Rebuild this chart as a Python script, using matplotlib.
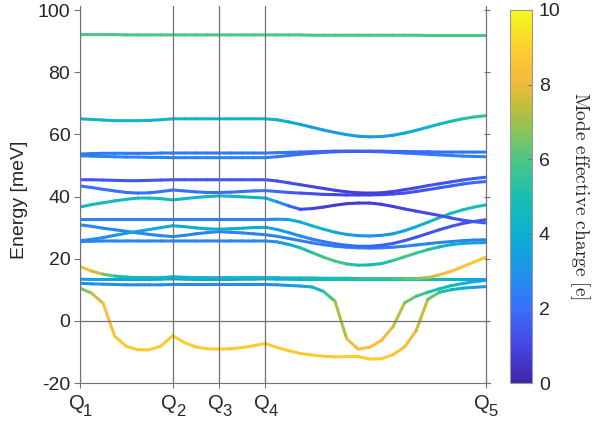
import matplotlib
matplotlib.use('Agg')
import matplotlib.pyplot as plt
import numpy as np
from matplotlib.collections import LineCollection
from matplotlib.colors import LinearSegmentedColormap, Normalize
from matplotlib.transforms import blended_transform_factory, offset_copy

plt.rcParams['font.family'] = ['Liberation Sans', 'DejaVu Sans']
plt.rcParams['axes.unicode_minus'] = False

# high-symmetry points along the path (sample index)
q_index = [0, 8, 12, 16, 35]
q_names = ['1', '2', '3', '4', '5']
n_k = 36

# phonon energies [meV] and mode effective charges [e], one pair per band
e_b1 = [10.5, 8.9, 5.6, -5.0, -8.2, -9.3, -9.3, -8.1, -4.8,
        -7.0, -8.4, -9.0, -9.1,
        -9.0, -8.6, -8.0, -7.3,
        -8.6, -9.6, -10.5, -11.0, -11.4, -11.6, -11.5, -11.5, -12.3, -12.2,
        -10.9, -8.4, -3.2, 6.9, 9.2, 10.0, 10.5, 10.8, 11.0]
c_b1 = [6.0, 7.2, 8.2, 8.7, 8.8, 8.8, 8.8, 8.8, 8.8,
        8.8, 8.8, 8.8, 8.8, 8.8, 8.8, 8.8, 8.8,
        8.8, 8.8, 8.8, 8.8, 8.8, 8.8, 8.8, 8.8, 8.8, 8.8,
        8.7, 8.5, 8.0, 7.0, 5.6, 4.6, 3.9, 3.4, 3.0]

e_b2 = [12.1, 11.9, 11.8, 11.7, 11.6, 11.6, 11.6, 11.6, 11.7,
        11.7, 11.7, 11.7, 11.7,
        11.7, 11.7, 11.7, 11.7,
        11.6, 11.4, 11.2, 10.9, 9.5, 6.3, -5.7, -9.1, -8.5, -6.3,
        -1.9, 5.8, 7.9, 9.2, 10.3, 11.3, 12.0, 12.6, 13.0]
c_b2 = [2.8] * 17 + [2.9, 3.1, 3.4, 3.9, 4.8, 6.5, 7.8, 8.5, 8.5, 8.3,
                     7.8, 7.0, 6.0, 5.3, 4.9, 4.6, 4.4, 4.2, 4.0]

e_b3 = [13.4, 13.3, 13.3, 13.3, 13.3, 13.3, 13.3, 13.4, 13.5,
        13.4, 13.3, 13.3, 13.3,
        13.3, 13.4, 13.4, 13.5,
        13.4, 13.4, 13.3, 13.3, 13.3, 13.3, 13.3, 13.3, 13.3, 13.3,
        13.3, 13.3, 13.3, 13.3, 13.3, 13.3, 13.3, 13.3, 13.3]
c_b3 = [3.6] * 17 + [3.7, 3.9, 4.1, 4.3, 4.5, 4.6, 4.7, 4.8, 4.9, 5.0,
                     5.0, 5.0, 5.0, 4.9, 4.6, 4.2, 3.9, 3.6, 3.4]

e_b4 = [17.5, 16.0, 15.0, 14.4, 14.1, 13.9, 13.9, 13.9, 14.2,
        14.0, 13.9, 13.9, 13.9,
        13.9, 13.9, 13.9, 13.9,
        13.9, 13.8, 13.8, 13.8, 13.7, 13.7, 13.7, 13.6, 13.6, 13.6,
        13.6, 13.6, 13.6, 13.9, 14.8, 15.9, 17.4, 18.9, 20.5]
c_b4 = [8.7, 8.0, 7.0, 5.5, 4.8, 4.4, 4.3, 4.3, 4.3,
        4.3, 4.3, 4.3, 4.3, 4.3, 4.3, 4.3, 4.3,
        4.4, 4.5, 4.6, 4.7, 4.8, 5.0, 5.1, 5.2, 5.3, 5.4,
        5.6, 5.9, 6.4, 7.1, 7.9, 8.4, 8.6, 8.7, 8.7]

e_g = [25.5, 25.6, 25.7, 25.7, 25.7, 25.7, 25.7, 25.7, 25.7,
       25.7, 25.7, 25.7, 25.7,
       25.7, 25.7, 25.7, 25.7,
       25.4, 24.6, 23.5, 22.0, 20.5, 19.2, 18.3, 17.9, 18.0, 18.4,
       19.4, 20.6, 21.8, 22.9, 23.8, 24.5, 24.9, 25.1, 25.2]
c_g = [2.6] * 17 + [3.0, 3.7, 4.5, 5.2, 5.8, 6.0, 5.6, 5.0, 4.6, 4.8,
                    5.3, 5.8, 5.8, 5.4, 4.9, 4.4, 3.9, 3.5, 3.2]

e_l1 = [30.9, 30.4, 29.8, 29.3, 28.8, 28.3, 27.8, 27.4, 27.1,
        27.5, 28.0, 28.4, 28.7,
        28.5, 28.3, 28.0, 27.7,
        27.2, 26.5, 25.8, 25.1, 24.5, 24.0, 23.7, 23.5, 23.4, 23.5,
        23.7, 24.0, 24.4, 24.8, 25.2, 25.5, 25.8, 26.0, 26.1]
c_l1 = [2.6] * 17 + [2.6, 2.5, 2.5, 2.4, 2.4, 2.4, 2.4, 2.4, 2.4, 2.4,
                     2.5, 2.5, 2.5, 2.6, 2.6, 2.6, 2.7, 2.7, 2.7]

e_l2 = [25.8, 26.2, 26.8, 27.5, 28.2, 28.8, 29.4, 30.0, 30.6,
        30.3, 29.9, 29.6, 29.5,
        29.6, 29.8, 30.0, 30.1,
        29.4, 28.4, 27.3, 26.3, 25.5, 24.8, 24.3, 24.0, 24.0, 24.3,
        24.9, 25.8, 26.9, 28.1, 29.3, 30.4, 31.3, 32.0, 32.5]
c_l2 = [2.6, 2.7, 2.8, 3.0, 3.2, 3.4, 3.6, 3.8, 4.0,
        4.0, 4.0, 4.0, 4.0, 4.0, 4.0, 4.0, 4.0,
        3.6, 3.1, 2.7, 2.4, 2.2, 2.0, 1.9, 1.8, 1.7, 1.6,
        1.5, 1.4, 1.4, 1.3, 1.3, 1.3, 1.3, 1.4, 1.5]

e_t = [32.6] * 17 + [32.7, 32.6, 31.8, 30.6, 29.5, 28.5, 27.8, 27.4, 27.3, 27.5,
                     28.0, 29.0, 30.3, 31.7, 33.2, 34.6, 35.7, 36.6, 37.3]
c_t = [2.5] * 17 + [2.8, 3.4, 4.2, 4.6, 4.4, 3.8, 3.2, 2.9, 2.8, 2.9,
                    3.1, 3.5, 4.0, 4.4, 4.7, 4.8, 4.9, 4.9, 4.9]

e_p = [36.6, 37.4, 38.0, 38.6, 39.1, 39.5, 39.5, 39.3, 38.9,
       39.3, 39.7, 40.0, 40.2,
       40.1, 39.9, 39.7, 39.5,
       38.3, 37.0, 35.9, 36.1, 36.6, 37.2, 37.7, 37.9, 37.9, 37.5,
       36.8, 36.0, 35.3, 34.6, 33.9, 33.1, 32.4, 31.9, 31.5]
c_p = [4.6, 4.6, 4.7, 4.7, 4.7, 4.7, 4.7, 4.6, 4.5,
       4.5, 4.6, 4.6, 4.6, 4.5, 4.5, 4.4, 4.3,
       3.3, 2.0, 1.2, 0.9, 0.8, 0.7, 0.7, 0.7, 0.7, 0.7,
       0.8, 0.9, 1.0, 1.1, 1.2, 1.3, 1.4, 1.5, 1.6]

e_h2 = [43.4, 42.9, 42.3, 41.8, 41.3, 41.1, 41.2, 41.6, 42.1,
        41.8, 41.5, 41.3, 41.3,
        41.4, 41.6, 41.8, 41.9,
        41.6, 41.3, 41.1, 40.9, 40.7, 40.6, 40.5, 40.5, 40.5, 40.6,
        40.8, 41.1, 41.6, 42.2, 42.8, 43.4, 44.0, 44.5, 44.8]
c_h2 = [2.0] * 17 + [1.8, 1.6, 1.4, 1.2, 1.1, 1.0, 1.0, 1.0, 1.0, 1.0,
                     1.1, 1.2, 1.3, 1.4, 1.5, 1.6, 1.7, 1.8, 1.9]

e_h1 = [45.4, 45.4, 45.3, 45.2, 45.1, 45.1, 45.2, 45.3, 45.4,
        45.4, 45.4, 45.4, 45.4,
        45.4, 45.4, 45.4, 45.4,
        45.0, 44.4, 43.8, 43.2, 42.6, 42.0, 41.5, 41.2, 41.1, 41.2,
        41.6, 42.2, 42.8, 43.5, 44.1, 44.7, 45.3, 45.8, 46.2]
c_h1 = [1.4] * 17 + [1.3, 1.2, 1.1, 1.0, 0.9, 0.9, 0.8, 0.8, 0.8, 0.8,
                     0.9, 1.0, 1.1, 1.2, 1.3, 1.4, 1.5, 1.6, 1.7]

e_m2 = [53.1, 53.0, 52.9, 52.8, 52.7, 52.7, 52.6, 52.6, 52.5,
        52.5, 52.5, 52.5, 52.5,
        52.5, 52.5, 52.5, 52.5,
        52.8, 53.2, 53.6, 53.9, 54.2, 54.4, 54.5, 54.5, 54.5, 54.4,
        54.2, 54.0, 53.8, 53.6, 53.4, 53.2, 53.0, 52.9, 52.8]
c_m2 = [2.6] * 17 + [2.4, 2.2, 2.0, 1.9, 1.8, 1.7, 1.7, 1.7, 1.7, 1.8,
                     1.9, 2.0, 2.1, 2.2, 2.3, 2.4, 2.5, 2.5, 2.6]

e_m1 = [53.7, 53.8, 53.9, 53.9, 53.9, 53.9, 53.9, 54.0, 54.0,
        54.0, 54.0, 54.0, 54.0,
        54.0, 54.0, 54.0, 54.0,
        54.1, 54.2, 54.3, 54.4, 54.5, 54.6, 54.6, 54.6, 54.6, 54.6,
        54.5, 54.5, 54.4, 54.4, 54.3, 54.3, 54.3, 54.3, 54.3]
c_m1 = [2.3] * 17 + [2.1, 2.0, 1.9, 1.8, 1.8, 1.7, 1.7, 1.7, 1.7, 1.7,
                     1.8, 1.8, 1.9, 1.9, 2.0, 2.0, 2.1, 2.1, 2.2]

e_65 = [65.0, 64.8, 64.6, 64.4, 64.4, 64.4, 64.5, 64.7, 65.0,
        65.0, 65.0, 65.0, 65.0,
        65.0, 65.0, 65.0, 65.0,
        64.7, 64.0, 63.2, 62.3, 61.4, 60.6, 59.9, 59.4, 59.2, 59.3,
        59.7, 60.4, 61.3, 62.3, 63.3, 64.2, 65.0, 65.6, 66.0]
c_65 = [4.4] * 17 + [4.2, 3.9, 3.6, 3.4, 3.3, 3.2, 3.2, 3.2, 3.2, 3.3,
                     3.4, 3.6, 3.9, 4.2, 4.5, 4.8, 5.1, 5.3, 5.5]

e_92 = [92.1, 92.1, 92.1, 92.1, 92.0, 92.0, 92.0, 92.0, 92.0,
        92.0, 92.0, 92.0, 92.0,
        92.0, 92.0, 92.0, 92.0,
        92.0, 92.0, 92.0, 91.9, 91.9, 91.9, 91.9, 91.9, 91.9, 91.9,
        91.9, 91.9, 91.9, 91.8, 91.8, 91.8, 91.8, 91.8, 91.8]
c_92 = [5.9] * 36

bands = [(e_b1, c_b1), (e_b2, c_b2), (e_b3, c_b3), (e_b4, c_b4),
         (e_g, c_g), (e_l1, c_l1), (e_l2, c_l2), (e_t, c_t), (e_p, c_p),
         (e_h2, c_h2), (e_h1, c_h1), (e_m2, c_m2), (e_m1, c_m1),
         (e_65, c_65), (e_92, c_92)]

# parula-like colormap
parula = LinearSegmentedColormap.from_list('parula', [
    (0.00, (0.243, 0.150, 0.660)),
    (0.10, (0.280, 0.270, 0.900)),
    (0.20, (0.220, 0.440, 0.990)),
    (0.30, (0.120, 0.580, 0.910)),
    (0.40, (0.040, 0.690, 0.830)),
    (0.50, (0.100, 0.745, 0.690)),
    (0.60, (0.300, 0.780, 0.520)),
    (0.70, (0.620, 0.760, 0.300)),
    (0.75, (0.780, 0.745, 0.230)),
    (0.80, (0.930, 0.730, 0.240)),
    (0.85, (0.990, 0.750, 0.220)),
    (0.90, (0.990, 0.820, 0.180)),
    (0.95, (0.960, 0.900, 0.140)),
    (1.00, (0.977, 0.984, 0.080)),
])
norm = Normalize(0, 10)

fig = plt.figure(figsize=(6.05, 4.34), dpi=100)
ax = fig.add_axes([80 / 605, 51 / 434, 410 / 605, 377 / 434])

k = np.arange(n_k)
segs, vals = [], []
for e, c in bands:
    e = np.asarray(e, float)
    c = np.asarray(c, float)
    pts = np.column_stack([k, e])
    segs.append(np.stack([pts[:-1], pts[1:]], axis=1))
    vals.append(0.5 * (c[:-1] + c[1:]))
lc = LineCollection(np.concatenate(segs), cmap=parula, norm=norm,
                    linewidths=2.2, capstyle='round', joinstyle='round', zorder=2)
lc.set_array(np.concatenate(vals))
lc.set_snap(False)
ax.add_collection(lc)

for q in q_index:
    ax.axvline(q, color='0.45', lw=0.9, zorder=3)
ax.axhline(0, color='0.45', lw=0.9, zorder=3)

ax.set_xlim(0, 35 * 1.0106)
ax.set_ylim(-20, 101.3)
ax.set_yticks(np.arange(-20, 101, 20))
ax.set_xticks(q_index)
ax.set_xticklabels([])
for side in ['top', 'right']:
    ax.spines[side].set_visible(False)
for side in ['left', 'bottom']:
    ax.spines[side].set_color('0.45')
ax.tick_params(axis='y', direction='out', length=4, color='0.45',
               labelsize=14, labelcolor='0.15', pad=3)
ax.tick_params(axis='x', direction='inout', length=7, color='0.45')

# Q labels with subscripts under the axis
trans = blended_transform_factory(ax.transData, ax.transAxes)
for q, name in zip(q_index, q_names):
    ax.text(q, 0, 'Q', transform=offset_copy(trans, fig, x=4.5, y=-11, units='dots'),
            ha='right', va='top', fontsize=14.5, color='0.15')
    ax.text(q, 0, name, transform=offset_copy(trans, fig, x=3, y=-21, units='dots'),
            ha='left', va='top', fontsize=12, color='0.15')

sec = ax.secondary_yaxis('right')
sec.set_yticks(np.arange(-20, 101, 20))
sec.tick_params(direction='in', length=4, color='0.45', labelright=False)
sec.spines['right'].set_visible(False)

fig.text(20 / 605, 1 - 200 / 434, 'Energy [meV]', rotation=90,
         ha='center', va='center', fontsize=14, color='0.15')

cax = fig.add_axes([510 / 605, 51 / 434, 22 / 605, 373 / 434])
cb = fig.colorbar(lc, cax=cax)
cb.set_ticks(np.arange(0, 11, 2))
cb.outline.set_edgecolor('0.6')
cb.outline.set_linewidth(0.8)
cax.tick_params(direction='in', length=3, color='0.45', labelsize=14,
                labelcolor='0.15', pad=5)
fig.text(580 / 605, 1 - 196 / 434, r'$\mathrm{Mode\ effective\ charge\ [e]}$',
         rotation=270, ha='center', va='center', fontsize=14, color='0.15',
         math_fontfamily='cm')

fig.savefig('out.png', dpi=100)
